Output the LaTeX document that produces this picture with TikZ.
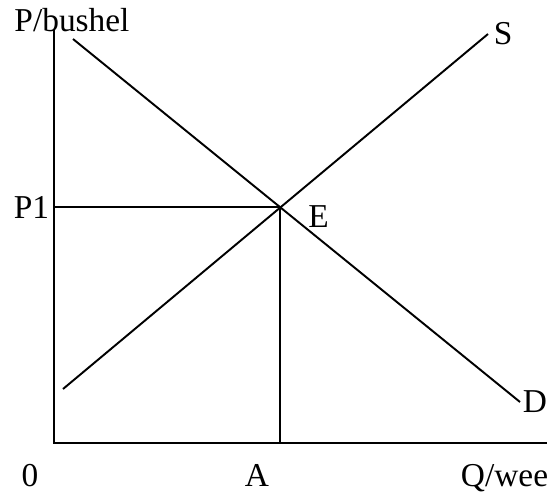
\documentclass[tikz,border=0pt]{standalone}
\usepackage{fontspec}
\setmainfont{Liberation Serif}
\usetikzlibrary{positioning}

\begin{document}
\begin{tikzpicture}[line width=1.1pt,
    lbl/.style={font=\fontsize{19}{22}\selectfont, inner sep=0pt}]
    \useasboundingbox (-1.08,-1.06) rectangle (9.86,8.86);
    % axes
    \coordinate (O) at (0,0);
    \coordinate (ytop) at (0,8.26);
    \coordinate (xend) at (9.86,0);
    \draw (ytop) -- (O) -- (xend);
    % demand and supply
    \coordinate (d1) at (0.38,8.08);
    \coordinate (d2) at (9.32,0.82);
    \coordinate (s1) at (0.18,1.08);
    \coordinate (s2) at (8.68,8.18);
    \draw (d1) -- (d2);
    \draw (s1) -- (s2);
    \coordinate (E) at (intersection of d1--d2 and s1--s2);
    \coordinate (p1) at (O |- E);
    \coordinate (A) at (O -| E);
    \draw (p1) -- (E) -- (A);
    % labels
    \node[lbl, anchor=base] (ylab) at (0.36,8.24) {P/bushel};
    \node[lbl, left=0.08 of p1] (p1lab) {P1};
    \node[lbl, anchor=west] (elab) at ([xshift=0.54cm, yshift=-0.18cm]E) {E};
    \node[lbl, right=0.1 of s2] (slab) {S};
    \node[lbl, right=0.04 of d2] (dlab) {D};
    \node[lbl, anchor=base] (olab) at (-0.48,-0.86) {0};
    \node[lbl, anchor=base] (alab) at (4.06,-0.86) {A};
    \node[lbl, anchor=base west] (qlab) at (8.12,-0.86) {Q/wee};
\end{tikzpicture}
\end{document}
